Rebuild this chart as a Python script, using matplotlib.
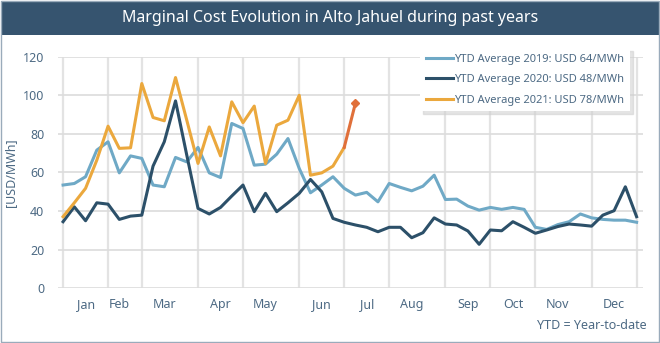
import matplotlib.pyplot as plt
from matplotlib.patches import Rectangle
import numpy as np

# weekly marginal cost, USD/MWh (week index 0..51)
cost_2019 = [53.5, 54.3, 57.8, 71.6, 75.9, 59.8, 68.6, 67.3, 53.5, 52.6,
             67.8, 65.5, 73.0, 59.8, 57.4, 85.4, 82.8, 63.8, 64.3, 69.5,
             77.6, 62.1, 49.5, 53.5, 57.8, 51.8, 48.3, 49.7, 44.8, 54.3,
             52.3, 50.5, 52.9, 58.6, 46.0, 46.2, 42.6, 40.5, 41.9, 40.9,
             41.9, 40.9, 31.6, 30.5, 33.0, 34.5, 38.5, 36.5, 35.7, 35.3,
             35.3, 34.2]
cost_2020 = [34.5, 42.2, 35.0, 44.3, 43.6, 35.7, 37.4, 37.9, 63.3, 75.9,
             97.1, 69.0, 41.4, 38.5, 41.9, 47.8, 53.5, 39.7, 49.2, 39.7,
             44.3, 49.2, 56.4, 50.0, 36.2, 34.2, 32.8, 31.6, 29.3, 31.6,
             31.6, 26.2, 28.8, 36.5, 33.3, 32.8, 29.7, 22.8, 30.2, 29.8,
             34.5, 31.6, 28.5, 30.2, 32.0, 33.3, 32.8, 32.2, 37.9, 40.2,
             52.6, 37.1]
cost_2021 = [37.1, 44.3, 51.8, 66.4, 84.0, 72.5, 72.8, 106.1, 88.5, 86.8,
             109.2, 87.1, 64.7, 83.6, 68.6, 96.6, 85.8, 94.4, 64.7, 84.5,
             87.1, 100.0, 58.6, 59.8, 63.3, 73.0]
latest_2021 = 96.0  # most recent week, highlighted

labels = ['YTD Average 2019: USD 64/MWh',
          'YTD Average 2020: USD 48/MWh',
          'YTD Average 2021: USD 78/MWh']
months = ['Jan', 'Feb', 'Mar', 'Apr', 'May', 'Jun',
          'Jul', 'Aug', 'Sep', 'Oct', 'Nov', 'Dec']
month_label_week = [2, 5, 9, 14, 18, 23, 27, 31, 36, 40, 44, 49]
month_start_week = [0, 4, 7, 12, 16, 21, 25, 29, 34, 38, 42, 47, 51]

c19 = '#6fa9c6'
c20 = '#2c5069'
c21 = '#eba83d'
c_last = '#e0703a'
txt = '#4d6a84'

plt.rcParams['font.family'] = ['Noto Sans', 'DejaVu Sans']

fig = plt.figure(figsize=(6.6, 3.43), dpi=100)
fig.patch.set_facecolor('white')

# title bar and outer frame
fig.patches.append(Rectangle((0.002, 0.897), 0.996, 0.1, transform=fig.transFigure,
                             facecolor='#36546f', edgecolor='none', zorder=0))
fig.patches.append(Rectangle((0.002, 0.004), 0.996, 0.993, transform=fig.transFigure,
                             facecolor='none', edgecolor='#9aabbb', linewidth=1.0, zorder=1))
fig.text(0.5, 0.948, 'Marginal Cost Evolution in Alto Jahuel during past years',
         color='white', fontsize=11.5, ha='center', va='center')

ax = fig.add_axes([0.0879, 0.1595, 0.886, 0.6752])
weeks = np.arange(len(cost_2019))
ax.plot(weeks, cost_2019, color=c19, lw=2.2, label=labels[0], zorder=3)
ax.plot(weeks, cost_2020, color=c20, lw=2.2, label=labels[1], zorder=4)
w21 = np.arange(len(cost_2021))
ax.plot(w21, cost_2021, color=c21, lw=2.2, label=labels[2], zorder=5)
ax.plot([w21[-1], w21[-1] + 1], [cost_2021[-1], latest_2021], color=c_last, lw=2.2,
        zorder=5)
ax.plot([w21[-1] + 1], [latest_2021], marker='D', color=c_last, markersize=4.5, zorder=6)

ax.set_xlim(-0.45, 51.55)
ax.set_ylim(0, 120)
ax.set_yticks(range(0, 121, 20))
ax.set_xticks(month_label_week)
ax.set_xticklabels(months)
ax.set_xticks(month_start_week, minor=True)
ax.tick_params(axis='both', which='both', length=0, colors=txt, labelsize=9)
ax.tick_params(axis='x', pad=7)
ax.tick_params(axis='y', pad=10)
ax.grid(axis='y', which='major', color='#dcdcdc', lw=1.2)
ax.grid(axis='x', which='minor', color='#e3e3e3', lw=1.6)
ax.set_axisbelow(True)
for s in ax.spines.values():
    s.set_visible(False)
ax.set_ylabel('[USD/MWh]', color=txt, fontsize=9, labelpad=4)

leg = ax.legend(loc='upper right', bbox_to_anchor=(0.978, 1.037), fontsize=8,
                frameon=True, shadow={'color': '#cfcfcf', 'alpha': 0.55},
                handlelength=2.4, handletextpad=0.15, labelspacing=0.85,
                borderpad=0.5, borderaxespad=0, fancybox=False)
leg.get_frame().set_edgecolor('none')
for t in leg.get_texts():
    t.set_color(txt)

fig.text(0.98, 0.05, 'YTD = Year-to-date', color=txt, fontsize=9, ha='right', va='center')

fig.savefig('out.png', dpi=100)
